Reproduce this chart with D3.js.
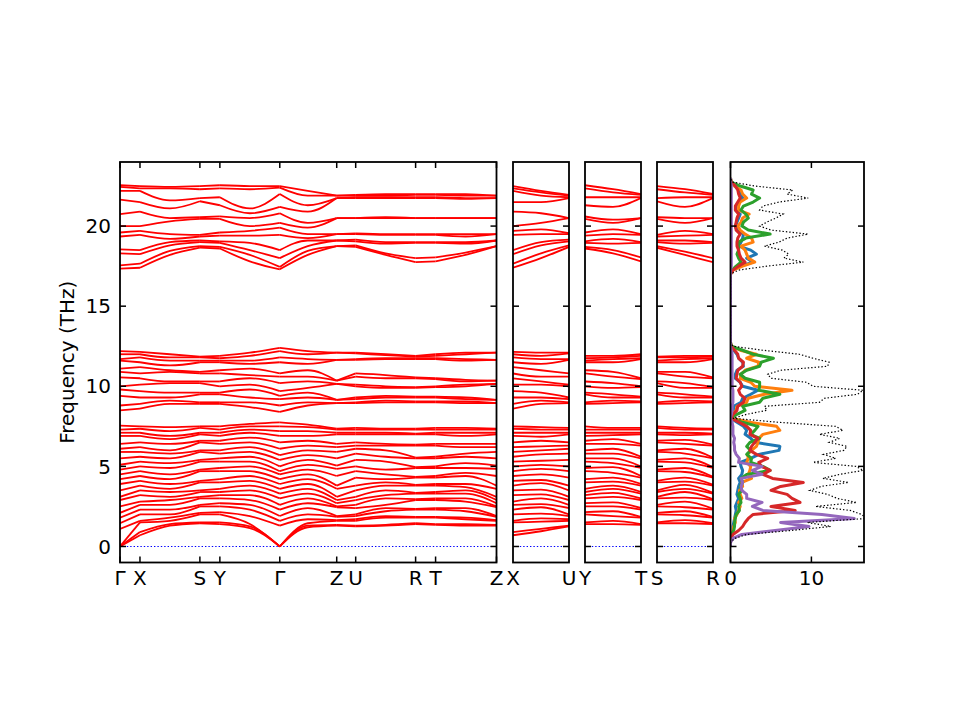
<!DOCTYPE html>
<html>
<head>
<meta charset="utf-8">
<script src="https://cdn.jsdelivr.net/npm/d3@7"></script>
<style>
  body { margin: 0; background: #fff; }
  svg { display: block; }
  text { font-family: "DejaVu Sans", sans-serif; fill: #000; }
</style>
</head>
<body>
<svg id="chart" width="960" height="720"></svg>
<script>
// ---- band path: high-symmetry points and their distance along the path
const pathLabels = ['Γ', 'X', 'S', 'Y', 'Γ', 'Z', 'U', 'R', 'T', 'Z'];
const pathTicks = [0, 20, 80, 100, 160, 217, 236, 296, 316, 377];

const mainQ = [0, 20, 50, 80, 100, 130, 160, 188, 217, 236, 266, 296, 316, 346, 377];

// acoustic / low optical group (24 branches), one row per q position
const lowBands = [
  [0, 0, 0, 1.1, 1.45, 1.8, 2.1, 2.5, 2.9, 3.1, 3.5, 3.9, 4.2, 4.5, 4.8, 5.1, 5.5, 5.9, 6.1, 6.4, 6.9, 7.1, 7.3, 7.55],
  [0.7, 0.9, 1.5, 1.6, 2.0, 2.3, 2.6, 2.8, 3.2, 3.5, 3.8, 4.1, 4.4, 4.7, 5.0, 5.3, 5.6, 5.9, 6.2, 6.5, 6.9, 7.1, 7.35, 7.5],
  [1.3, 1.4, 1.6, 1.8, 2.0, 2.3, 2.6, 2.9, 3.1, 3.4, 3.6, 3.9, 4.2, 4.5, 4.9, 5.2, 5.5, 5.8, 6.0, 6.4, 6.7, 6.9, 7.2, 7.45],
  [1.45, 1.5, 2.0, 2.1, 2.5, 2.6, 3.0, 3.1, 3.4, 3.5, 4.0, 4.1, 4.7, 4.8, 5.3, 5.4, 5.9, 6.0, 6.5, 6.6, 7.0, 7.1, 7.4, 7.5],
  [1.4, 1.5, 2.0, 2.15, 2.5, 2.7, 3.0, 3.2, 3.4, 3.6, 4.0, 4.2, 4.7, 4.9, 5.3, 5.5, 5.8, 6.0, 6.4, 6.6, 6.9, 7.1, 7.3, 7.5],
  [1.15, 1.25, 1.4, 1.9, 2.3, 2.6, 2.9, 3.2, 3.5, 3.8, 4.1, 4.4, 4.7, 5.0, 5.3, 5.6, 5.9, 6.2, 6.5, 6.8, 7.1, 7.3, 7.5, 7.65],
  [0, 0, 0, 1.3, 1.6, 1.9, 2.3, 2.6, 3.0, 3.3, 3.6, 3.9, 4.2, 4.5, 4.7, 5.0, 5.4, 5.7, 6.1, 6.5, 6.9, 7.2, 7.5, 7.75],
  [1.2, 1.3, 1.45, 1.7, 2.0, 2.4, 2.7, 3.0, 3.3, 3.6, 3.9, 4.2, 4.5, 4.8, 5.1, 5.4, 5.7, 6.0, 6.3, 6.6, 6.9, 7.2, 7.45, 7.6],
  [1.3, 1.35, 1.6, 1.65, 1.85, 1.9, 2.45, 2.5, 2.7, 2.9, 3.1, 3.6, 3.8, 4.4, 4.85, 5.05, 5.5, 5.9, 6.2, 6.4, 7.0, 7.1, 7.3, 7.35],
  [1.25, 1.3, 1.6, 1.7, 1.9, 2.0, 2.4, 2.6, 2.9, 3.1, 3.5, 3.8, 4.3, 4.7, 5.0, 5.4, 5.8, 6.1, 6.3, 6.5, 7.0, 7.1, 7.3, 7.4],
  [1.3, 1.35, 1.8, 1.9, 2.2, 2.4, 2.6, 3.0, 3.2, 3.5, 3.8, 4.0, 4.2, 4.5, 4.8, 5.3, 5.6, 6.0, 6.3, 6.4, 7.0, 7.1, 7.3, 7.35],
  [1.4, 1.45, 1.8, 1.85, 2.3, 2.35, 2.9, 2.95, 3.3, 3.35, 3.8, 3.85, 4.3, 4.35, 4.9, 4.95, 5.5, 5.55, 6.3, 6.35, 7.0, 7.05, 7.3, 7.35],
  [1.35, 1.4, 1.8, 1.85, 2.3, 2.4, 2.9, 3.0, 3.3, 3.4, 3.8, 3.9, 4.3, 4.4, 4.9, 5.0, 5.5, 5.6, 6.3, 6.4, 7.0, 7.1, 7.3, 7.4],
  [1.3, 1.4, 1.7, 1.8, 2.2, 2.4, 2.8, 3.0, 3.3, 3.5, 3.7, 3.9, 4.4, 4.6, 4.9, 5.2, 5.6, 5.8, 6.2, 6.4, 6.9, 7.1, 7.3, 7.4],
  [1.3, 1.35, 1.6, 1.65, 1.85, 1.9, 2.45, 2.5, 2.7, 2.9, 3.1, 3.6, 3.8, 4.4, 4.85, 5.05, 5.5, 5.9, 6.2, 6.4, 7.0, 7.1, 7.3, 7.35]
];

// middle optical group (12 branches)
const midBands = [
  [8.5, 8.8, 9.4, 9.8, 10.0, 10.55, 10.9, 11.1, 11.6, 11.7, 12.0, 12.2],
  [8.6, 8.9, 9.3, 9.7, 10.1, 10.5, 10.8, 11.2, 11.5, 11.8, 12.0, 12.15],
  [8.9, 9.1, 9.3, 9.6, 10.2, 10.3, 10.9, 11.0, 11.3, 11.6, 11.8, 12.0],
  [8.9, 9.0, 9.5, 9.6, 10.2, 10.3, 10.8, 10.9, 11.5, 11.6, 11.8, 11.85],
  [8.9, 9.0, 9.5, 9.6, 10.0, 10.3, 10.8, 11.0, 11.5, 11.6, 11.75, 11.9],
  [8.7, 9.0, 9.3, 9.8, 10.1, 10.5, 10.7, 11.1, 11.4, 11.6, 11.9, 12.1],
  [8.4, 8.8, 9.2, 9.4, 9.7, 10.2, 10.6, 10.8, 11.5, 11.8, 12.2, 12.4],
  [8.8, 9.0, 9.3, 9.6, 9.9, 10.3, 10.6, 11.0, 11.4, 11.7, 12.0, 12.2],
  [8.95, 8.95, 9.15, 9.15, 10.15, 10.15, 10.35, 10.35, 11.65, 11.65, 12.1, 12.1],
  [8.95, 9.0, 9.2, 9.3, 10.0, 10.1, 10.6, 10.8, 11.65, 11.7, 12.05, 12.1],
  [9.0, 9.1, 9.3, 9.4, 9.9, 10.0, 10.5, 10.7, 11.7, 11.75, 11.95, 12.0],
  [9.0, 9.05, 9.3, 9.35, 9.9, 9.95, 10.5, 10.55, 11.7, 11.75, 11.85, 11.9],
  [9.0, 9.05, 9.3, 9.35, 9.95, 10.0, 10.45, 10.5, 11.7, 11.75, 11.9, 12.0],
  [8.95, 9.05, 9.2, 9.3, 10.0, 10.1, 10.3, 10.4, 11.6, 11.7, 12.0, 12.1],
  [8.95, 8.95, 9.15, 9.15, 10.15, 10.15, 10.35, 10.35, 11.65, 11.65, 12.1, 12.1]
];

// high optical group (12 branches)
const highBands = [
  [17.35, 17.55, 18.3, 18.55, 19.35, 19.6, 20.0, 20.75, 21.65, 22.2, 22.45, 22.55],
  [17.4, 17.65, 18.25, 18.5, 19.45, 19.7, 20.0, 20.9, 21.5, 22.2, 22.35, 22.5],
  [18.2, 18.45, 18.8, 19.0, 19.2, 19.5, 20.3, 20.5, 21.1, 21.6, 22.35, 22.45],
  [18.65, 18.75, 19.0, 19.1, 19.35, 19.45, 20.45, 20.55, 21.55, 21.75, 22.3, 22.5],
  [18.6, 18.7, 18.95, 19.05, 19.4, 19.6, 20.45, 20.6, 21.3, 21.8, 22.35, 22.55],
  [17.8, 18.2, 18.5, 18.95, 19.4, 19.7, 20.0, 20.5, 20.8, 21.1, 22.3, 22.5],
  [17.3, 17.45, 18.0, 18.5, 19.45, 19.9, 20.2, 20.8, 21.2, 22.0, 22.4, 22.5],
  [18.2, 18.45, 18.75, 19.1, 19.25, 19.5, 19.9, 20.2, 20.9, 21.3, 21.9, 22.2],
  [18.75, 18.75, 19.1, 19.1, 19.5, 19.5, 20.5, 20.5, 21.75, 21.75, 21.9, 21.9],
  [18.7, 18.8, 19.05, 19.15, 19.5, 19.55, 20.5, 20.5, 21.75, 21.8, 21.9, 21.95],
  [18.2, 18.3, 18.9, 19.0, 19.45, 19.5, 20.5, 20.55, 21.75, 21.8, 21.9, 22.0],
  [17.75, 18.0, 18.95, 19.0, 19.45, 19.5, 20.5, 20.5, 21.75, 21.8, 21.95, 22.0],
  [17.8, 18.05, 18.95, 19.0, 19.45, 19.5, 20.5, 20.5, 21.75, 21.8, 21.95, 22.0],
  [18.2, 18.35, 18.9, 19.0, 19.35, 19.5, 20.5, 20.5, 21.7, 21.75, 21.9, 22.0],
  [18.75, 18.75, 19.1, 19.1, 19.5, 19.5, 20.5, 20.5, 21.75, 21.75, 21.9, 21.9]
];

// side paths X-U, Y-T, S-R : end labels, rows of mainQ used for ends, values read halfway
const sideLabels = [['X', 'U'], ['Y', 'T'], ['S', 'R']];
const sideEnds = [[1, 9], [4, 12], [3, 11]];
const sideLength = 57;
const xuMid = [0.95, 1.1, 1.55, 1.75, 2.05, 2.45, 2.65, 3.0, 3.25, 3.55, 3.95, 4.15, 4.5, 4.85, 5.1, 5.35, 5.75, 6.0, 6.25, 6.6, 6.85, 7.1, 7.3, 7.45,
  8.9, 9.1, 9.3, 9.6, 10.1, 10.3, 10.6, 11.0, 11.4, 11.7, 11.9, 12.1,
  18.0, 18.3, 18.8, 19.0, 19.5, 19.8, 20.2, 20.8, 21.5, 21.9, 22.1, 22.2];
const ytMid = [1.4, 1.6, 1.9, 2.2, 2.5, 2.75, 3.1, 3.35, 3.6, 3.8, 4.05, 4.3, 4.6, 4.95, 5.2, 5.5, 5.8, 6.1, 6.4, 6.7, 6.95, 7.1, 7.3, 7.4,
  8.95, 9.1, 9.3, 9.5, 9.9, 10.2, 10.6, 10.9, 11.5, 11.7, 11.8, 11.9,
  18.3, 18.5, 18.9, 19.2, 19.5, 19.8, 20.2, 20.4, 21.2, 21.8, 22.1, 22.3];
const srMid = [1.45, 1.65, 1.95, 2.2, 2.45, 2.8, 3.05, 3.4, 3.6, 3.85, 4.05, 4.3, 4.65, 4.9, 5.25, 5.5, 5.8, 6.1, 6.4, 6.65, 6.95, 7.1, 7.3, 7.4,
  8.95, 9.1, 9.3, 9.5, 9.9, 10.2, 10.6, 10.9, 11.5, 11.7, 11.8, 11.9,
  18.2, 18.4, 18.9, 19.1, 19.4, 19.7, 20.2, 20.5, 21.2, 21.8, 22.1, 22.3];
const sideMids = [xuMid, ytMid, srMid];

// ---- density of states (THz grid, total and five partial projections)
const dosFreq = [0, 0.25, 0.5, 0.75, 1, 1.25, 1.5, 1.75, 2, 2.25, 2.5, 2.75, 3, 3.25, 3.5, 3.75, 4, 4.25, 4.5, 4.75,
  5, 5.25, 5.5, 5.75, 6, 6.25, 6.5, 6.75, 7, 7.25, 7.5, 7.75, 8, 8.25, 8.5, 8.75, 9, 9.25, 9.5, 9.75,
  10, 10.25, 10.5, 10.75, 11, 11.25, 11.5, 11.75, 12, 12.25, 12.5, 12.75, 13, 13.25, 13.5, 13.75, 14, 14.25, 14.5, 14.75,
  15, 15.25, 15.5, 15.75, 16, 16.25, 16.5, 16.75, 17, 17.25, 17.5, 17.75, 18, 18.25, 18.5, 18.75, 19, 19.25, 19.5, 19.75,
  20, 20.25, 20.5, 20.75, 21, 21.25, 21.5, 21.75, 22, 22.25, 22.5, 22.75, 23];
const dosTotal = [0, 0, 0.5, 2.0, 7.5, 12.4, 9.5, 16.8, 16.2, 14.8, 10.5, 15.6, 13.2, 12.0, 9.8, 11.2, 14.6, 11.4, 13.5, 16.4,
  15.5, 10.2, 13.0, 11.5, 14.0, 14.4, 12.2, 13.5, 11.0, 13.9, 13.0, 6.0, 0.3, 2.0, 4.5, 4.2, 11.0, 11.6, 15.7, 16.4,
  10.2, 9.4, 5.0, 4.6, 6.2, 12.0, 12.2, 10.2, 8.5, 4.0, 0.3, 0, 0, 0, 0, 0, 0, 0, 0, 0,
  0, 0, 0, 0, 0, 0, 0, 0, 0, 1.0, 4.5, 9.0, 6.6, 7.2, 6.4, 4.2, 6.0, 7.0, 9.6, 5.0,
  3.6, 4.5, 5.6, 6.5, 3.6, 4.0, 6.0, 9.6, 7.0, 7.7, 3.0, 0.2, 0];
const dosBlue = [0, 0, 0.05, 0.1, 0.3, 0.3, 0.4, 0.5, 0.6, 0.7, 0.6, 0.8, 1.0, 0.8, 0.9, 1.0, 1.2, 1.0, 1.4, 1.5,
  1.3, 1.2, 2.5, 3.5, 6.0, 6.1, 3.0, 2.5, 1.8, 2.0, 1.6, 0.8, 0.05, 0.3, 0.5, 0.4, 1.3, 1.5, 2.5, 3.4,
  1.5, 1.2, 0.6, 0.6, 0.8, 1.6, 1.5, 1.0, 0.8, 0.4, 0.05, 0, 0, 0, 0, 0, 0, 0, 0, 0,
  0, 0, 0, 0, 0, 0, 0, 0, 0, 0.2, 1.2, 2.8, 2.0, 3.2, 2.5, 1.0, 1.3, 1.5, 1.6, 0.8,
  0.6, 0.8, 1.0, 1.2, 0.6, 0.7, 1.0, 1.5, 1.2, 1.0, 0.5, 0, 0];
const dosOrange = [0, 0, 0.05, 0.1, 0.3, 0.4, 0.6, 0.5, 0.8, 1.0, 1.2, 1.0, 1.4, 1.2, 1.1, 1.5, 1.4, 2.6, 2.2, 2.4,
  2.5, 2.0, 2.2, 2.1, 2.6, 3.2, 3.4, 3.5, 4.0, 6.1, 5.7, 2.4, 0.1, 0.3, 0.7, 0.8, 2.0, 2.2, 4.2, 7.6,
  3.0, 2.5, 1.2, 1.3, 1.8, 3.4, 3.5, 2.0, 3.2, 1.2, 0.1, 0, 0, 0, 0, 0, 0, 0, 0, 0,
  0, 0, 0, 0, 0, 0, 0, 0, 0, 0.3, 1.5, 3.0, 2.2, 2.0, 1.8, 1.3, 2.8, 2.6, 1.8, 1.2,
  0.9, 1.3, 1.5, 2.3, 1.0, 1.0, 1.2, 2.0, 1.5, 1.3, 0.5, 0, 0];
const dosGreen = [0, 0, 0.05, 0.1, 0.4, 0.5, 0.5, 0.6, 0.7, 1.1, 1.0, 1.3, 1.2, 1.0, 1.4, 1.2, 1.5, 1.3, 2.0, 4.9,
  4.0, 2.5, 2.6, 2.0, 2.5, 2.0, 2.4, 3.6, 2.5, 3.0, 3.4, 1.5, 0.05, 0.8, 1.8, 1.5, 3.6, 4.0, 6.1, 3.5,
  3.6, 3.6, 1.8, 1.2, 2.0, 3.6, 3.8, 5.3, 2.8, 1.5, 0.1, 0, 0, 0, 0, 0, 0, 0, 0, 0,
  0, 0, 0, 0, 0, 0, 0, 0, 0, 0.2, 0.7, 1.3, 1.0, 0.8, 1.0, 1.0, 1.0, 1.9, 4.9, 2.2,
  1.4, 1.6, 2.2, 1.9, 1.3, 1.6, 2.8, 3.6, 2.6, 2.8, 1.2, 0.1, 0];
const dosRed = [0, 0, 0.1, 0.3, 1.0, 1.5, 1.8, 2.2, 2.8, 8.0, 5.0, 8.6, 7.6, 7.0, 5.0, 6.2, 9.0, 5.2, 4.0, 4.9,
  3.8, 3.5, 4.6, 3.2, 2.4, 2.6, 3.0, 3.4, 2.4, 2.5, 2.0, 1.1, 0.1, 0.3, 0.8, 0.9, 1.6, 1.8, 1.2, 1.0,
  1.4, 1.2, 0.7, 0.8, 0.9, 1.5, 1.6, 1.0, 0.9, 0.5, 0.05, 0, 0, 0, 0, 0, 0, 0, 0, 0,
  0, 0, 0, 0, 0, 0, 0, 0, 0, 0.3, 1.0, 1.8, 1.3, 1.1, 1.0, 0.8, 0.8, 0.9, 1.2, 0.7,
  0.6, 0.7, 0.8, 1.0, 0.6, 0.6, 0.9, 1.2, 1.0, 0.9, 0.6, 0.1, 0];
const dosPurple = [0, 0, 0.3, 1.4, 5.5, 9.7, 6.2, 15.3, 11.3, 4.0, 2.7, 3.9, 2.0, 2.0, 1.4, 1.3, 1.5, 1.3, 3.9, 2.7,
  3.9, 1.0, 1.1, 0.7, 0.5, 0.5, 0.4, 0.5, 0.3, 0.3, 0.3, 0.2, 0, 0.1, 0.2, 0.2, 0.3, 0.3, 0.3, 0.3,
  0.2, 0.2, 0.2, 0.2, 0.2, 0.2, 0.2, 0.2, 0.2, 0.1, 0, 0, 0, 0, 0, 0, 0, 0, 0, 0,
  0, 0, 0, 0, 0, 0, 0, 0, 0, 0, 0.1, 0.1, 0.1, 0.1, 0.1, 0.1, 0.1, 0.1, 0.1, 0.1,
  0.1, 0.1, 0.1, 0.1, 0.1, 0.1, 0.1, 0.1, 0.1, 0.1, 0.1, 0, 0];
const partialSeries = [dosBlue, dosOrange, dosGreen, dosRed, dosPurple];
const partialColors = ['#1f77b4', '#ff7f0e', '#2ca02c', '#d62728', '#9467bd'];

const freqTicks = [0, 5, 10, 15, 20];
const dosTicks = [0, 10];

// ---- layout
const svg = d3.select('#chart');
const plotTop = 162, plotBottom = 562.5;
const y = d3.scaleLinear().domain([-1, 24]).range([plotBottom, plotTop]);

const mainX = d3.scaleLinear().domain([0, 377]).range([120, 496.5]);
const sideX = [
  d3.scaleLinear().domain([0, sideLength]).range([513, 569]),
  d3.scaleLinear().domain([0, sideLength]).range([585, 641]),
  d3.scaleLinear().domain([0, sideLength]).range([657, 713])
];
const dosX = d3.scaleLinear().domain([0, 16.5]).range([730.5, 864]);

const tickLen = 6;
const fontSize = '20px';

const rows = mainQ.map((q, i) => lowBands[i].concat(midBands[i], highBands[i]).sort((a, b) => a - b));
const nBands = rows[0].length;

const bandLine = (xs) => d3.line()
  .x(d => xs(d[0]))
  .y(d => y(d[1]))
  .curve(d3.curveMonotoneX);

const defs = svg.append('defs');
const clip = (id, x0, x1) => {
  defs.append('clipPath').attr('id', id)
    .append('rect').attr('x', x0).attr('y', plotTop).attr('width', x1 - x0).attr('height', plotBottom - plotTop);
  return `url(#${id})`;
};

const zeroLine = (g, x0, x1) => {
  g.append('line')
    .attr('x1', x0).attr('x2', x1)
    .attr('y1', y(0)).attr('y2', y(0))
    .style('stroke', '#0000ff')
    .style('stroke-width', 1.2)
    .style('stroke-dasharray', '1.4,2');
};

// y ticks on both sides of a panel
const yTicksBoth = (g, x0, x1) => {
  freqTicks.forEach(t => {
    g.append('line').attr('x1', x0).attr('x2', x0 + tickLen).attr('y1', y(t)).attr('y2', y(t));
    g.append('line').attr('x1', x1).attr('x2', x1 - tickLen).attr('y1', y(t)).attr('y2', y(t));
  });
  g.selectAll('line').style('stroke', '#000').style('stroke-width', 1.5);
};

const frame = (x0, x1) => {
  svg.append('rect')
    .attr('x', x0).attr('y', plotTop)
    .attr('width', x1 - x0).attr('height', plotBottom - plotTop)
    .style('fill', 'none')
    .style('stroke', '#000')
    .style('stroke-width', 1.8);
};

const xLabel = (x, s) => {
  svg.append('text')
    .attr('x', x).attr('y', 585)
    .attr('text-anchor', 'middle')
    .style('font-size', fontSize)
    .text(s);
};

const drawBands = (g, xs, series) => {
  g.selectAll(null)
    .data(series)
    .enter()
    .append('path')
    .attr('d', bandLine(xs))
    .style('fill', 'none')
    .style('stroke', '#ff0000')
    .style('stroke-width', 1.8);
};

// ---- main band panel, drawn segment by segment between high-symmetry points
const mainG = svg.append('g').attr('clip-path', clip('clipMain', 120, 496.5));
zeroLine(mainG, 120, 496.5);
d3.pairs(pathTicks).forEach(([a, b]) => {
  const idx = mainQ.map((q, i) => i).filter(i => mainQ[i] >= a && mainQ[i] <= b);
  const series = d3.range(nBands).map(k => idx.map(i => [mainQ[i], rows[i][k]]));
  drawBands(mainG, mainX, series);
});

const mainTicks = svg.append('g');
yTicksBoth(mainTicks, 120, 496.5);
pathTicks.forEach(t => {
  mainTicks.append('line').attr('x1', mainX(t)).attr('x2', mainX(t)).attr('y1', plotBottom).attr('y2', plotBottom - tickLen);
  mainTicks.append('line').attr('x1', mainX(t)).attr('x2', mainX(t)).attr('y1', plotTop).attr('y2', plotTop + tickLen);
});
mainTicks.selectAll('line').style('stroke', '#000').style('stroke-width', 1.5);
frame(120, 496.5);
pathTicks.forEach((t, i) => xLabel(mainX(t), pathLabels[i]));

// ---- side panels X-U, Y-T, S-R
sideX.forEach((xs, p) => {
  const [r0, r1] = sideEnds[p];
  const mid = sideMids[p].slice().sort((a, b) => a - b);
  const g = svg.append('g').attr('clip-path', clip('clipSide' + p, xs.range()[0], xs.range()[1]));
  zeroLine(g, xs.range()[0], xs.range()[1]);
  const series = d3.range(nBands).map(b => [[0, rows[r0][b]], [sideLength / 2, mid[b]], [sideLength, rows[r1][b]]]);
  drawBands(g, xs, series);
  yTicksBoth(svg.append('g'), xs.range()[0], xs.range()[1]);
  frame(xs.range()[0], xs.range()[1]);
  xLabel(xs(0), sideLabels[p][0]);
  xLabel(xs(sideLength), sideLabels[p][1]);
});

// ---- DOS panel
const dosG = svg.append('g').attr('clip-path', clip('clipDos', 730.5, 864));
const dosLine = (vals) => d3.line()
  .x((d, i) => dosX(vals[i]))
  .y(d => y(d))(dosFreq);

partialSeries.forEach((vals, k) => {
  dosG.append('path')
    .attr('d', dosLine(vals))
    .style('fill', 'none')
    .style('stroke', partialColors[k])
    .style('stroke-width', 3)
    .style('stroke-linejoin', 'round');
});
dosG.append('path')
  .attr('d', dosLine(dosTotal))
  .style('fill', 'none')
  .style('stroke', '#000')
  .style('stroke-width', 1.2)
  .style('stroke-dasharray', '1.4,2');

const dosTickG = svg.append('g');
yTicksBoth(dosTickG, 730.5, 864);
dosTicks.forEach(t => {
  dosTickG.append('line').attr('x1', dosX(t)).attr('x2', dosX(t)).attr('y1', plotBottom).attr('y2', plotBottom - tickLen);
  dosTickG.append('line').attr('x1', dosX(t)).attr('x2', dosX(t)).attr('y1', plotTop).attr('y2', plotTop + tickLen);
});
dosTickG.selectAll('line').style('stroke', '#000').style('stroke-width', 1.5);
frame(730.5, 864);
dosTicks.forEach(t => xLabel(dosX(t), String(t)));

// ---- frequency axis labels
freqTicks.forEach(t => {
  svg.append('text')
    .attr('x', 111)
    .attr('y', y(t))
    .attr('dy', '0.36em')
    .attr('text-anchor', 'end')
    .style('font-size', fontSize)
    .text(t);
});

svg.append('text')
  .attr('transform', `translate(74,${(plotTop + plotBottom) / 2}) rotate(-90)`)
  .attr('text-anchor', 'middle')
  .style('font-size', fontSize)
  .text('Frequency (THz)');
</script>
</body>
</html>
